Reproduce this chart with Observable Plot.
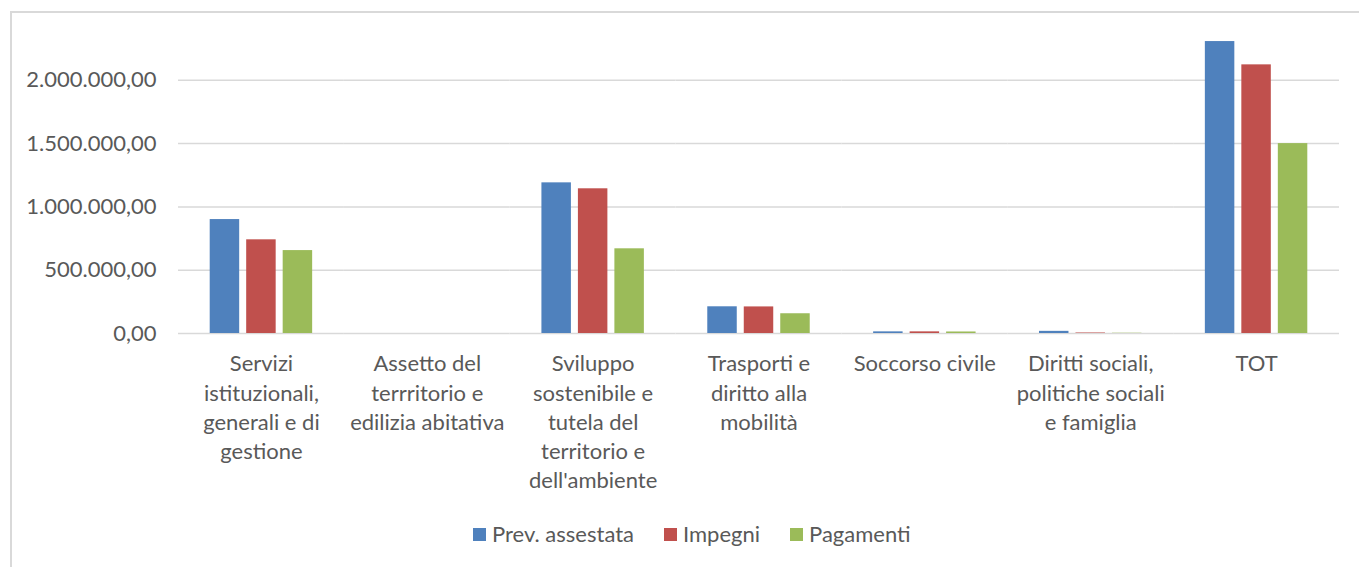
<!DOCTYPE html>
<html>
<head>
<meta charset="utf-8">
<script src="https://cdn.jsdelivr.net/npm/d3@7"></script>
<script src="https://cdn.jsdelivr.net/npm/@observablehq/plot@0.6"></script>
<style>
  html, body { margin: 0; padding: 0; background: #fff; }
  #wrap { position: relative; width: 1359px; height: 567px; overflow: hidden; font-family: Lato, "Open Sans", sans-serif; color: #595959; }
  #frame { position: absolute; left: 10px; top: 11px; width: 1400px; height: 600px; border: 2px solid #d9d9d9; box-sizing: border-box; pointer-events: none; }
  #chart { position: absolute; left: 0; top: 0; }
  #legend { position: absolute; top: 521px; left: 473px; display: flex; align-items: center; font-size: 22px; line-height: 26px; white-space: nowrap; }
  #legend .item { display: flex; align-items: center; margin-right: 30px; }
  #legend .sw { width: 13px; height: 13px; margin-right: 6px; }
</style>
</head>
<body>
<div id="wrap">
  <div id="frame"></div>
  <div id="chart"></div>
  <div id="legend"></div>
</div>
<script>
const categories = [
  "Servizi istituzionali, generali e di gestione",
  "Assetto del terrritorio e edilizia abitativa",
  "Sviluppo sostenibile e tutela del territorio e dell'ambiente",
  "Trasporti e diritto alla mobilità",
  "Soccorso civile",
  "Diritti sociali, politiche sociali e famiglia",
  "TOT"
];
const categoryLabels = [
  "Servizi\nistituzionali,\ngenerali e di\ngestione",
  "Assetto del\nterrritorio e\nedilizia abitativa",
  "Sviluppo\nsostenibile e\ntutela del\nterritorio e\ndell'ambiente",
  "Trasporti e\ndiritto alla\nmobilità",
  "Soccorso civile",
  "Diritti sociali,\npolitiche sociali\ne famiglia",
  "TOT"
];
const series = ["Prev. assestata", "Impegni", "Pagamenti"];
const colors = ["#4f81bd", "#c0504d", "#9bbb59"];
const prevAssestata = [900000, 0, 1190000, 211000, 13000, 17000, 2306000];
const impegni       = [740000, 0, 1143000, 210000, 13000, 4000, 2122000];
const pagamenti     = [655000, 0, 669000, 156000, 12000, 2000, 1500000];
const yTicks = [0, 500000, 1000000, 1500000, 2000000];
const yMax = 2500000;

const seriesValues = [prevAssestata, impegni, pagamenti];
const table = [];
categories.forEach((c, i) => {
  series.forEach((s, j) => {
    table.push({category: c, series: s, value: seriesValues[j][i]});
  });
});
const labelOf = new Map(categories.map((c, i) => [c, categoryLabels[i]]));

const itFormat = d3.formatLocale({decimal: ",", thousands: ".", grouping: [3], currency: ["", "€"]}).format(",.2f");

const chart = Plot.plot({
  width: 1359,
  height: 500,
  marginLeft: 178,
  marginRight: 20,
  marginTop: 16.5,
  marginBottom: 167,
  style: {fontFamily: "Lato, 'Open Sans', sans-serif", fontSize: "22px", color: "#595959", background: "transparent"},
  fx: {domain: categories, padding: 0, round: false, label: null, axis: null},
  x: {domain: series, paddingInner: 0.192, paddingOuter: 0.869, round: false, axis: null},
  y: {domain: [0, yMax], axis: null},
  color: {domain: series, range: colors},
  marks: [
    Plot.ruleY(yTicks, {stroke: "#d9d9d9", strokeWidth: 1.5, strokeOpacity: 1}),
    Plot.barY(table, {fx: "category", x: "series", y: "value", fill: "series"}),
    Plot.axisY({ticks: yTicks, tickFormat: itFormat, tickSize: 0, tickPadding: 22, fontSize: 22, fill: "#595959", label: null}),
    Plot.axisFx({anchor: "bottom", tickFormat: d => labelOf.get(d), tickSize: 0, tickPadding: 17, fontSize: 22, lineHeight: 1.33, fill: "#595959", label: null})
  ]
});
document.getElementById("chart").appendChild(chart);

const legend = document.getElementById("legend");
series.forEach((s, i) => {
  const item = document.createElement("div");
  item.className = "item";
  const sw = document.createElement("div");
  sw.className = "sw";
  sw.style.background = colors[i];
  const t = document.createElement("span");
  t.textContent = s;
  item.appendChild(sw);
  item.appendChild(t);
  legend.appendChild(item);
});
</script>
</body>
</html>
